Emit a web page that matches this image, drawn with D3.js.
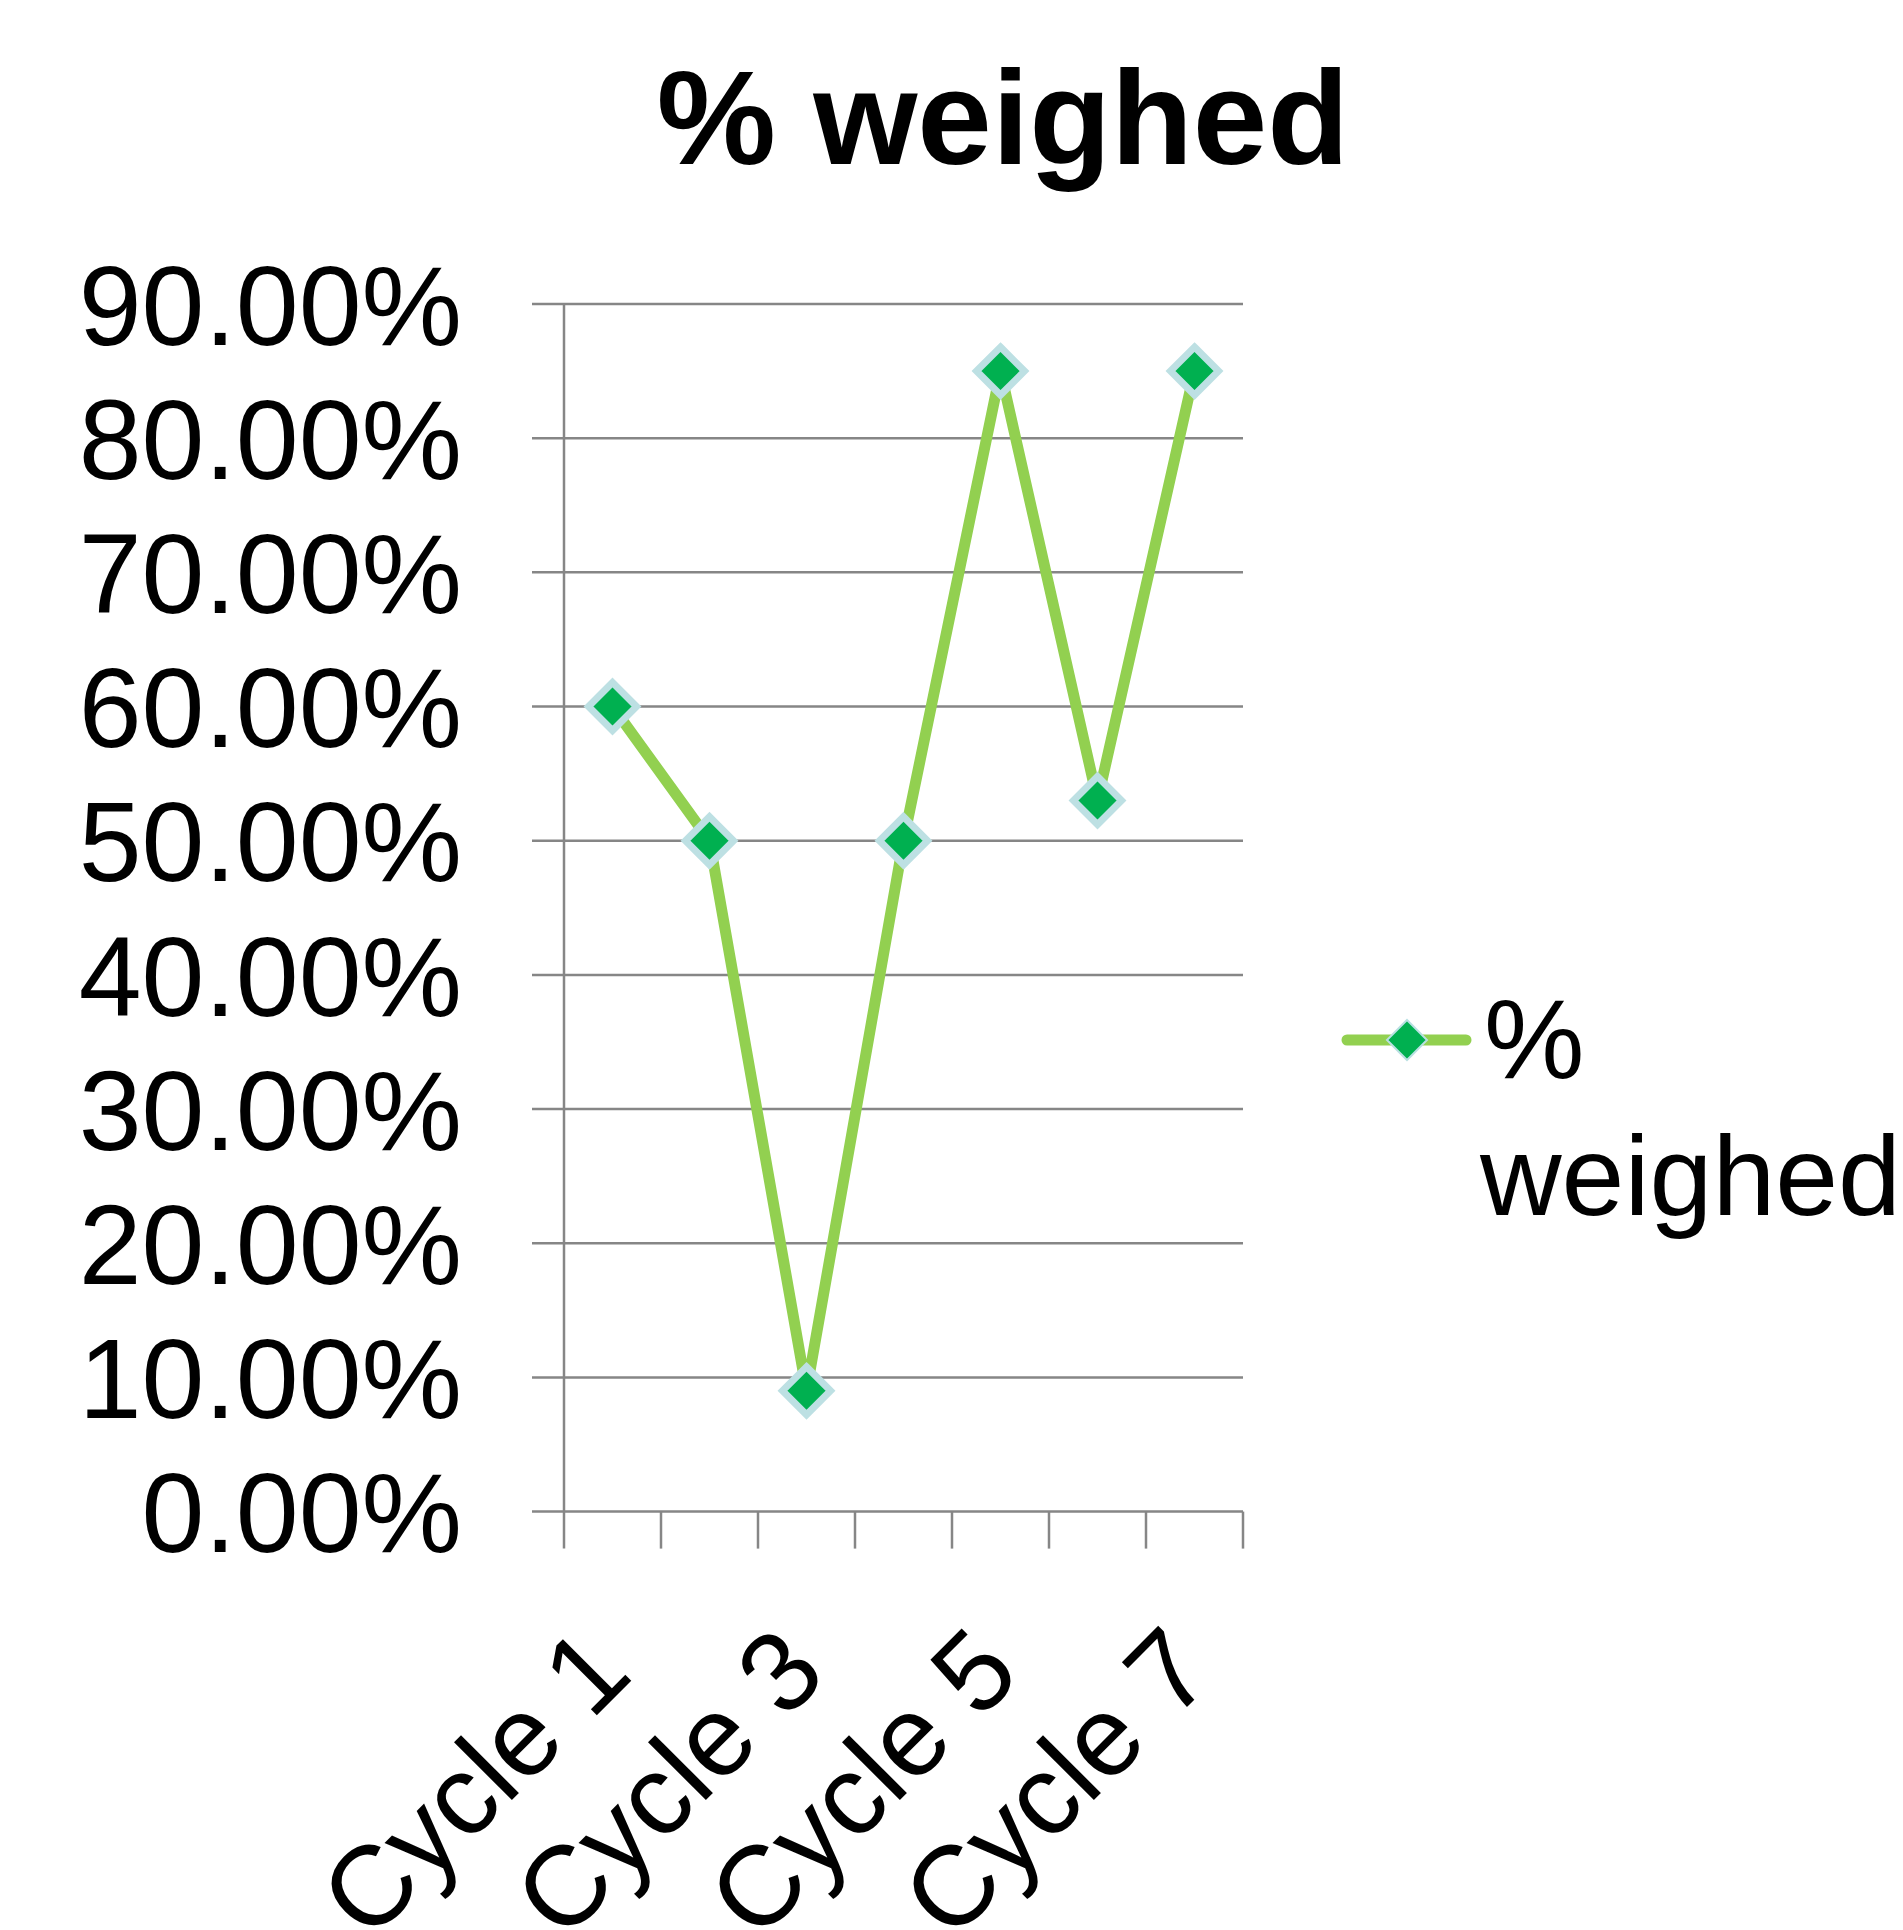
<!DOCTYPE html>
<html><head><meta charset="utf-8">
<script src="https://cdn.jsdelivr.net/npm/d3@7"></script>
<style>body{margin:0;background:#fff}svg{display:block}text{font-family:"Liberation Sans",Arial,sans-serif}</style>
</head><body>
<script>
const categories = ["Cycle 1","Cycle 2","Cycle 3","Cycle 4","Cycle 5","Cycle 6","Cycle 7"];
const values = [0.60, 0.50, 0.09, 0.50, 0.85, 0.53, 0.85];
const yTicks = [0,0.1,0.2,0.3,0.4,0.5,0.6,0.7,0.8,0.9];
const shownLabels = ["Cycle 1","Cycle 3","Cycle 5","Cycle 7"];
const seriesName = "% weighed";
const chartTitle = "% weighed";

(function(){
const W=1903,H=1930;
const svg=d3.select("body").append("svg").attr("width",W).attr("height",H);
const pl=564,pr=1243,pt=304,pb=1511.6;
const x=d3.scaleBand().domain(categories).range([pl,pr]).padding(0);
const y=d3.scaleLinear().domain([0,0.9]).range([pb,pt]);
const gray="#868686";
const fs=113;

svg.append("text").attr("x",1003).attr("y",164).attr("text-anchor","middle")
  .attr("font-size",134).attr("font-weight","bold").text(chartTitle);

svg.append("g").selectAll("line").data(yTicks).join("line")
  .attr("x1",532).attr("x2",pr).attr("y1",d=>y(d)).attr("y2",d=>y(d))
  .attr("stroke",gray).attr("stroke-width",2.5);
svg.append("g").selectAll("text").data(yTicks).join("text")
  .attr("x",462).attr("y",d=>y(d)).attr("dy","0.36em").attr("text-anchor","end")
  .attr("font-size",fs).text(d=>d3.format(".2%")(d));
svg.append("line").attr("x1",pl).attr("x2",pl).attr("y1",pt).attr("y2",pb+37)
  .attr("stroke",gray).attr("stroke-width",2.5);
const bounds=categories.map(c=>x(c)).concat([pr]);
svg.append("g").selectAll("line").data(bounds.slice(1)).join("line")
  .attr("x1",d=>d).attr("x2",d=>d).attr("y1",pb).attr("y2",pb+37)
  .attr("stroke",gray).attr("stroke-width",2.5);
svg.append("g").selectAll("text").data(shownLabels).join("text")
  .attr("transform",d=>`translate(${x(d)+x.bandwidth()/2-6},1648) rotate(-45)`)
  .attr("text-anchor","end").attr("dy","0.36em").attr("font-size",fs).text(d=>d);

const cx=(d,i)=>x(categories[i])+x.bandwidth()/2;
svg.append("path").datum(values)
  .attr("d",d3.line().x((d,i)=>cx(d,i)).y(d=>y(d)))
  .attr("fill","none").attr("stroke","#92d050").attr("stroke-width",11).attr("stroke-linejoin","round");
const diamond=(s)=>`M0,${-s}L${s},0L0,${s}L${-s},0Z`;
svg.append("g").selectAll("path").data(values).join("path")
  .attr("transform",(d,i)=>`translate(${cx(d,i)},${y(d)})`)
  .attr("d",diamond(24)).attr("fill","#00b050").attr("stroke","#bde0e3").attr("stroke-width",7);

const ly=1040;
svg.append("line").attr("x1",1347).attr("x2",1466).attr("y1",ly).attr("y2",ly)
  .attr("stroke","#92d050").attr("stroke-width",11).attr("stroke-linecap","round");
svg.append("path").attr("transform",`translate(1407,${ly})`).attr("d",diamond(20))
  .attr("fill","#00b050").attr("stroke","#b9e0e2").attr("stroke-width",2);
const parts=seriesName.split(" ");
svg.append("text").attr("x",1484).attr("y",1078).attr("font-size",fs).text(parts[0]);
svg.append("text").attr("x",1480).attr("y",1215).attr("font-size",fs).text(parts[1]);
})();
</script>
</body></html>
